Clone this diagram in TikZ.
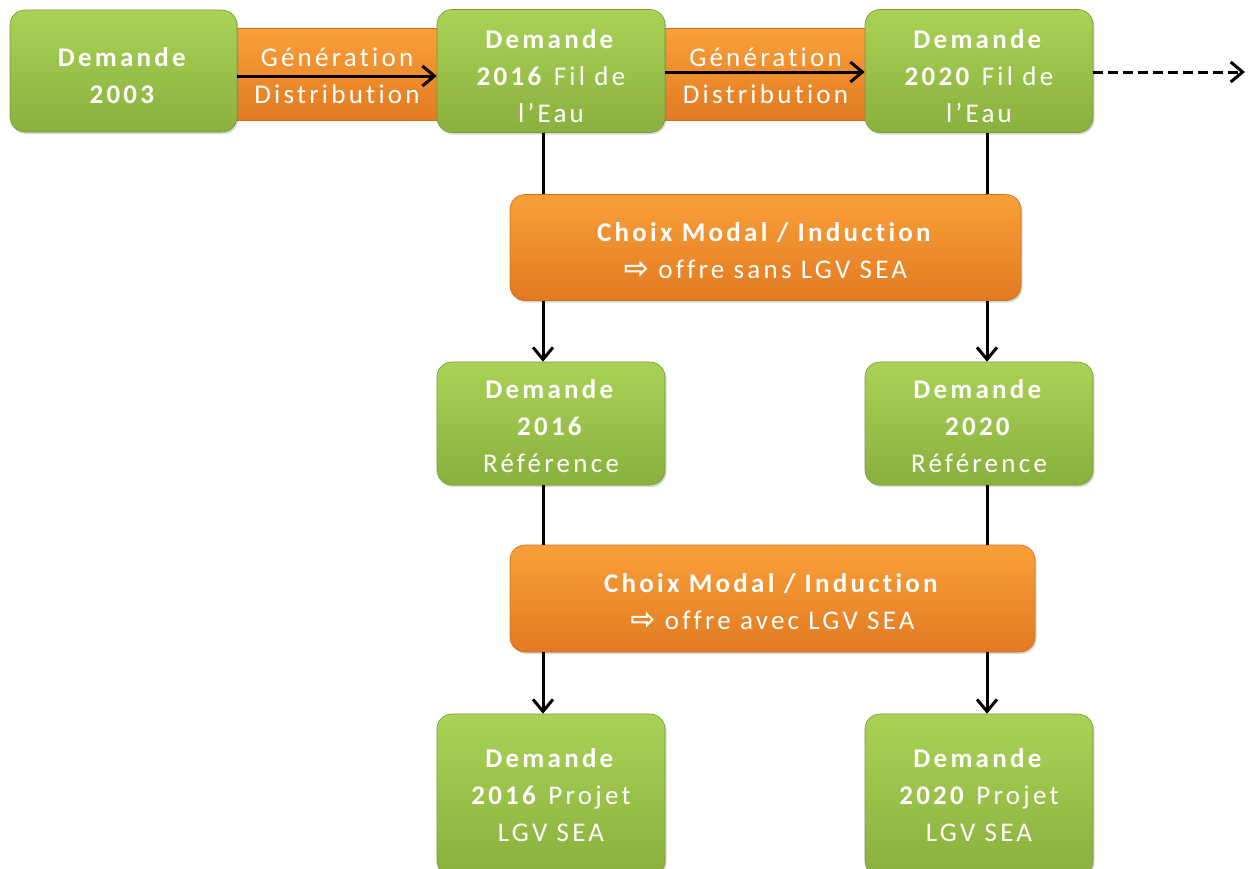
\documentclass[tikz,border=0pt]{standalone}
\usepackage{fontspec}
\setmainfont{Carlito}[Ligatures=NoCommon]
\newfontfamily\lsfont[LetterSpace=12,Ligatures=NoCommon]{Carlito}
\newfontfamily\symfont{DejaVu Sans}
\usetikzlibrary{arrows.meta,shadows,calc}
\definecolor{G1}{RGB}{170,210,86}
\definecolor{G2}{RGB}{138,176,62}
\definecolor{G3}{RGB}{120,155,50}
\definecolor{O1}{RGB}{250,160,58}
\definecolor{O2}{RGB}{226,122,34}
\definecolor{O3}{RGB}{205,110,30}
\newcommand{\rarr}{{\symfont\bfseries\fontsize{30}{37}\selectfont ⇨}}
\tikzset{
  txt/.style={text=white, align=center, inner sep=0pt,
    font=\lsfont\fontsize{27}{37}\selectfont},
  greenbox/.style={rectangle, rounded corners=15pt, top color=G1, bottom color=G2,
    draw=G3, line width=0.6pt, minimum width=228pt, minimum height=123pt, inner sep=0pt,
    drop shadow={shadow xshift=1.5pt, shadow yshift=-2pt, opacity=0.3}},
  band/.style={rectangle, top color=O1, bottom color=O2, draw=O3, line width=0.5pt,
    minimum width=212pt, minimum height=92pt, inner sep=0pt},
  choix/.style={rectangle, rounded corners=15pt, top color=O1, bottom color=O2,
    draw=O3, line width=0.6pt, minimum height=106pt, inner sep=0pt,
    drop shadow={shadow xshift=1.5pt, shadow yshift=-2pt, opacity=0.3}},
  arr/.style={line width=3pt, -{Straight Barb[length=12pt,width=20pt]}},
  plain/.style={line width=3pt},
  dashedarr/.style={line width=3pt, dash pattern=on 10pt off 5pt, -{Straight Barb[length=12pt,width=20pt]}}
}
\begin{document}
\begin{tikzpicture}[x=1pt,y=-1pt]
\useasboundingbox (0,0) rectangle (1248,868);
\clip (0,0) rectangle (1248,868);
\fill[white] (0,0) rectangle (1248,868);
% orange bands (behind)
\node[band, label={[txt,yshift=-2pt]center:{Génération\\Distribution}}] (gen1) at (337,74) {};
\node[band, label={[txt,yshift=-2pt]center:{Génération\\Distribution}}] (gen2) at (765.5,74) {};
% top row
\node[greenbox, minimum width=227pt, minimum height=122pt,
  label={[txt,yshift=-5pt]center:{\textbf{Demande}\\\textbf{2003}}}] (d2003) at (123.5,71) {};
\node[greenbox, label={[txt,yshift=-5pt]center:{\textbf{Demande}\\\textbf{2016} Fil de\\l’Eau}}] (d2016f) at (551,71) {};
\node[greenbox, label={[txt,yshift=-5pt]center:{\textbf{Demande}\\\textbf{2020} Fil de\\l’Eau}}] (d2020f) at (979,71) {};
\coordinate (dend) at (1245,72);
% choix 1
\node[choix, minimum width=511pt,
  label={[txt,yshift=-3pt]center:{\textbf{Choix Modal / Induction}\\\rarr\ offre sans LGV SEA}}] (choix1) at (765.5,247.5) {};
% reference
\node[greenbox, label={[txt,yshift=-3pt]center:{\textbf{Demande}\\\textbf{2016}\\Référence}}] (r2016) at (551,423.5) {};
\node[greenbox, label={[txt,yshift=-3pt]center:{\textbf{Demande}\\\textbf{2020}\\Référence}}] (r2020) at (979,423.5) {};
% choix 2
\node[choix, minimum width=525pt, minimum height=107pt,
  label={[txt,yshift=-3pt]center:{\textbf{Choix Modal / Induction}\\\rarr\ offre avec LGV SEA}}] (choix2) at (772.5,598.5) {};
% projet
\node[greenbox, minimum height=162pt,
  label={[txt]center:{\textbf{Demande}\\\textbf{2016} Projet\\LGV SEA}}] (p2016) at (551,795) {};
\node[greenbox, minimum height=162pt,
  label={[txt]center:{\textbf{Demande}\\\textbf{2020} Projet\\LGV SEA}}] (p2020) at (979,795) {};
% connectors
\draw[arr] ([yshift=-5pt]d2003.east) -- ([yshift=-5pt]d2016f.west);
\draw[arr] ([yshift=-1pt]d2016f.east) -- ([yshift=-1pt]d2020f.west);
\draw[dashedarr] ([yshift=-1pt]d2020f.east) -- (dend);
\draw[plain] ([xshift=-8pt]d2016f.south) -- ([xshift=-8pt]d2016f.south |- choix1.north);
\draw[plain] ([xshift=8pt]d2020f.south) -- ([xshift=8pt]d2020f.south |- choix1.north);
\draw[arr] ([xshift=-8pt]r2016.north |- choix1.south) -- ([xshift=-8pt]r2016.north);
\draw[arr] ([xshift=8pt]r2020.north |- choix1.south) -- ([xshift=8pt]r2020.north);
\draw[plain] ([xshift=-8pt]r2016.south) -- ([xshift=-8pt]r2016.south |- choix2.north);
\draw[plain] ([xshift=8pt]r2020.south) -- ([xshift=8pt]r2020.south |- choix2.north);
\draw[arr] ([xshift=-8pt]p2016.north |- choix2.south) -- ([xshift=-8pt]p2016.north);
\draw[arr] ([xshift=8pt]p2020.north |- choix2.south) -- ([xshift=8pt]p2020.north);
\end{tikzpicture}
\end{document}
